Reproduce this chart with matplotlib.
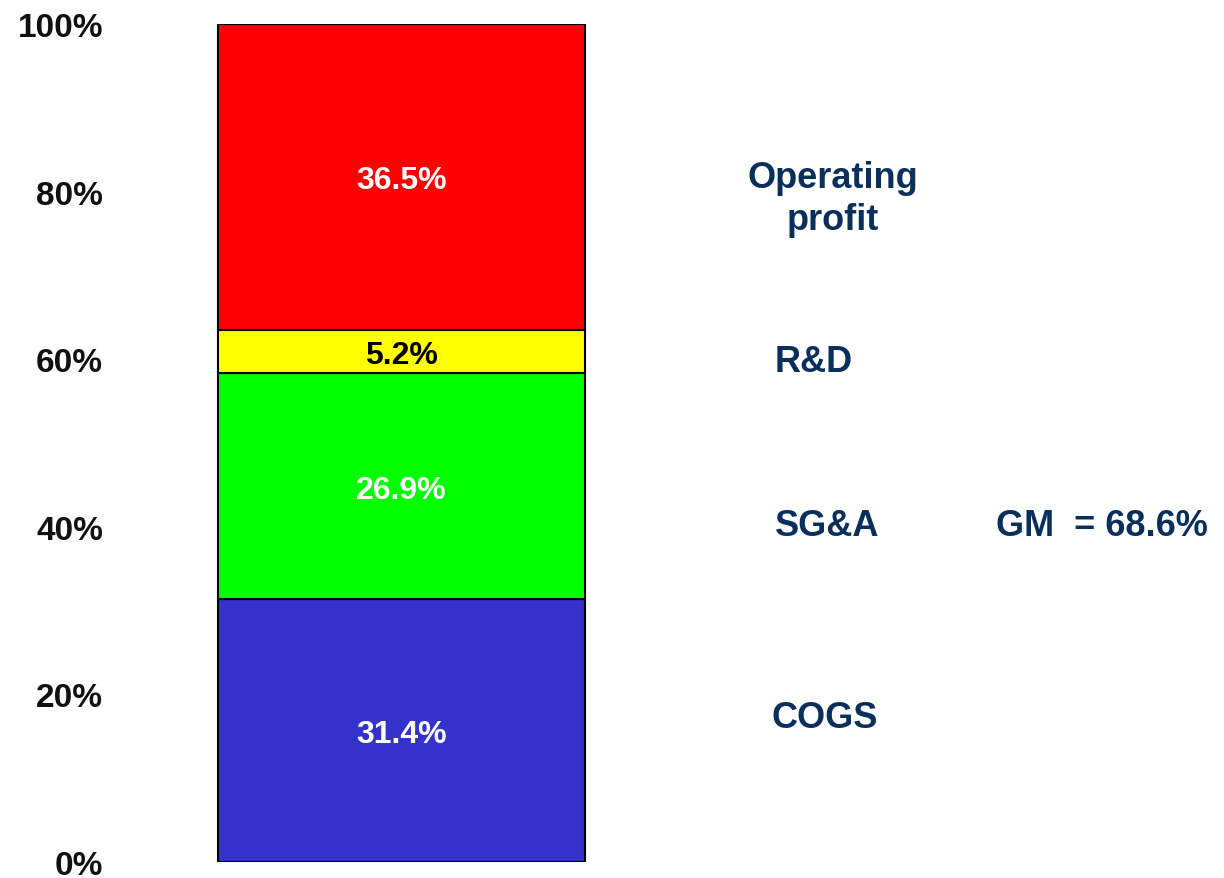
import matplotlib
matplotlib.use("Agg")
import matplotlib.pyplot as plt
from matplotlib.transforms import blended_transform_factory

# DATA
segments = ["COGS", "SG&A", "R&D", "Operating\nprofit"]
values = [31.4, 26.9, 5.2, 36.5]
colors = ["#3333CC", "#00FF00", "#FFFF00", "#FF0000"]
text_colors = ["white", "white", "black", "white"]
yticks = [0, 20, 40, 60, 80, 100]
ytick_labels = ["0%", "20%", "40%", "60%", "80%", "100%"]

# side labels: (x in figure pixels, y in data units)
side_pos = [(825, 17.7), (827, 40.6), (814, 60.2), (833, 79.2)]
gm_value = 100 - values[0]

navy = "#0b2f5b"
plt.rcParams["font.family"] = ["Liberation Sans", "DejaVu Sans"]

fig = plt.figure(figsize=(12.24, 8.79), dpi=100)
ax = fig.add_axes([110 / 1224, 16 / 879, 1114 / 1224, 838 / 879])

bottom = 0
for v, c, tc in zip(values, colors, text_colors):
    ax.bar(0, v, width=1, bottom=bottom, color=c, edgecolor="black", linewidth=1.5)
    ax.text(0, bottom + v / 2, "%.1f%%" % v, ha="center", va="center_baseline",
            fontsize=23, fontweight="bold", color=tc)
    bottom += v

ax.set_xlim(-0.794, -0.794 + 1114 / 367)
ax.set_ylim(0, 100)
ax.set_yticks(yticks)
ax.set_yticklabels(ytick_labels, fontsize=24, fontweight="bold", color="#111111")
ax.tick_params(axis="y", length=0, pad=5)
ax.set_xticks([])
for s in ax.spines.values():
    s.set_visible(False)

trans = blended_transform_factory(fig.transFigure, ax.transData)
for name, (px, y) in zip(segments, side_pos):
    va = "center" if "\n" in name else "center_baseline"
    ax.text(px / 1224, y, name, transform=trans, ha="center", va=va,
            fontsize=26, fontweight="bold", color=navy, linespacing=1.25)

ax.text(996 / 1224, 40.6, "GM  = %.1f%%" % gm_value, transform=trans, ha="left",
        va="center_baseline", fontsize=26, fontweight="bold", color=navy)

fig.savefig("out.png", dpi=100)
